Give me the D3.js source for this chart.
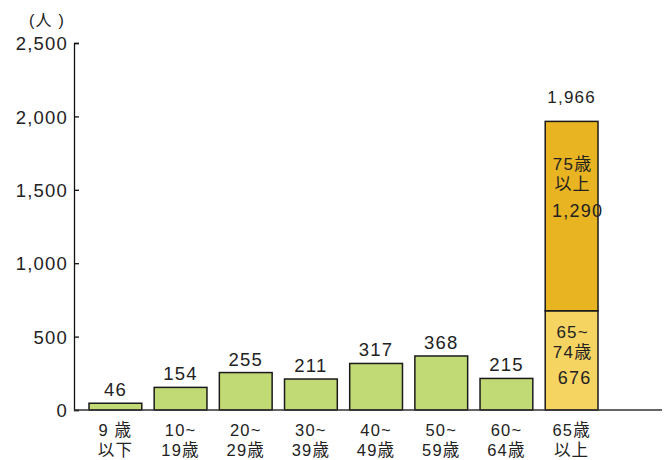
<!DOCTYPE html>
<html>
<head>
<meta charset="utf-8">
<script src="https://cdn.jsdelivr.net/npm/d3@7"></script>
<style>
  body { margin: 0; background: #fff; }
  text { font-family: "Liberation Sans", Arial, "Noto Sans CJK JP", sans-serif; fill: #222; letter-spacing: 1.2px; }
</style>
</head>
<body>
<svg id="chart" width="664" height="460"></svg>
<script>
var categories = ["9 歳\n以下", "10~\n19歳", "20~\n29歳", "30~\n39歳", "40~\n49歳", "50~\n59歳", "60~\n64歳", "65歳\n以上"]
var values = [46, 154, 255, 211, 317, 368, 215, null]
var elderly = [676, 1290]          // 65~74歳, 75歳以上
var elderlyNames = ["65~\n74歳", "75歳\n以上"]
var yTicks = [0, 500, 1000, 1500, 2000, 2500]

var svg = d3.select("#chart")
var x = d3.scaleBand().domain(categories).range([89, 598]).paddingInner(0.19).paddingOuter(0)
var y = d3.scaleLinear().domain([0, 2500]).range([410, 43])
var fmt = d3.format(",")

// y axis
var yAxis = svg.append("g").attr("transform", "translate(74,0)")
  .call(d3.axisRight(y).tickValues(yTicks).tickSize(5).tickFormat(fmt))
yAxis.attr("font-family", null)
yAxis.select(".domain").attr("stroke", "#111").attr("stroke-width", 1.3)
yAxis.selectAll("line").attr("stroke", "#111").attr("stroke-width", 1.3)
yAxis.selectAll("text").attr("x", -6).attr("text-anchor", "end").attr("font-size", 18.5).attr("dy", "0.36em").attr("fill", "#222")
svg.append("text").attr("x", 47).attr("y", 26).attr("text-anchor", "middle").attr("font-size", 16).text("(人 )")

// green bars
var simple = categories.map((c, i) => ({c: c, v: values[i]})).filter(d => d.v != null)
svg.selectAll(".bar").data(simple).join("rect").attr("class", "bar")
  .attr("x", d => x(d.c)).attr("width", x.bandwidth())
  .attr("y", d => y(d.v)).attr("height", d => y(0) - y(d.v))
  .attr("fill", "#c2da76").attr("stroke", "#1a1a1a").attr("stroke-width", 1.5)
svg.selectAll(".val").data(simple).join("text").attr("class", "val")
  .attr("x", d => x(d.c) + x.bandwidth() / 2).attr("y", d => y(d.v) - 7)
  .attr("text-anchor", "middle").attr("font-size", 18.5).text(d => d.v)

// stacked bar for 65+
var last = categories[categories.length - 1]
var stack = [{lo: 0, hi: elderly[0], fill: "#f6d462"}, {lo: elderly[0], hi: elderly[0] + elderly[1], fill: "#e9b421"}]
svg.selectAll(".stk").data(stack).join("rect").attr("class", "stk")
  .attr("x", x(last)).attr("width", x.bandwidth())
  .attr("y", d => y(d.hi)).attr("height", d => y(d.lo) - y(d.hi))
  .attr("fill", d => d.fill).attr("stroke", "#1a1a1a").attr("stroke-width", 1.5)
var cx = x(last) + x.bandwidth() / 2
var total = elderly[0] + elderly[1]
svg.append("text").attr("x", cx).attr("y", y(total) - 18).attr("text-anchor", "middle").attr("font-size", 17).text(fmt(total))

// inner labels
var inner = [
  {lines: elderlyNames[1].split("\n"), top: y(total) + 49, val: elderly[1], vy: y(total) + 96, dx: 6},
  {lines: elderlyNames[0].split("\n"), top: y(elderly[0]) + 27, val: elderly[0], vy: y(elderly[0]) + 73, dx: 3}
]
inner.forEach(d => {
  d.lines.forEach((l, i) => {
    svg.append("text").attr("x", cx + 1).attr("y", d.top + i * 20).attr("text-anchor", "middle").attr("font-size", 17).text(l)
  })
  svg.append("text").attr("x", cx + d.dx).attr("y", d.vy).attr("text-anchor", "middle")
    .attr("font-size", 18).text(fmt(d.val))
})

// baseline
svg.append("line").attr("x1", 74).attr("x2", 662).attr("y1", y(0)).attr("y2", y(0)).attr("stroke", "#333").attr("stroke-width", 1.3)

// x labels
categories.forEach(c => {
  c.split("\n").forEach((l, i) => {
    svg.append("text").attr("x", x(c) + x.bandwidth() / 2).attr("y", 436 + i * 20)
      .attr("text-anchor", "middle").attr("font-size", 16.5).text(l)
  })
})
</script>
</body>
</html>
